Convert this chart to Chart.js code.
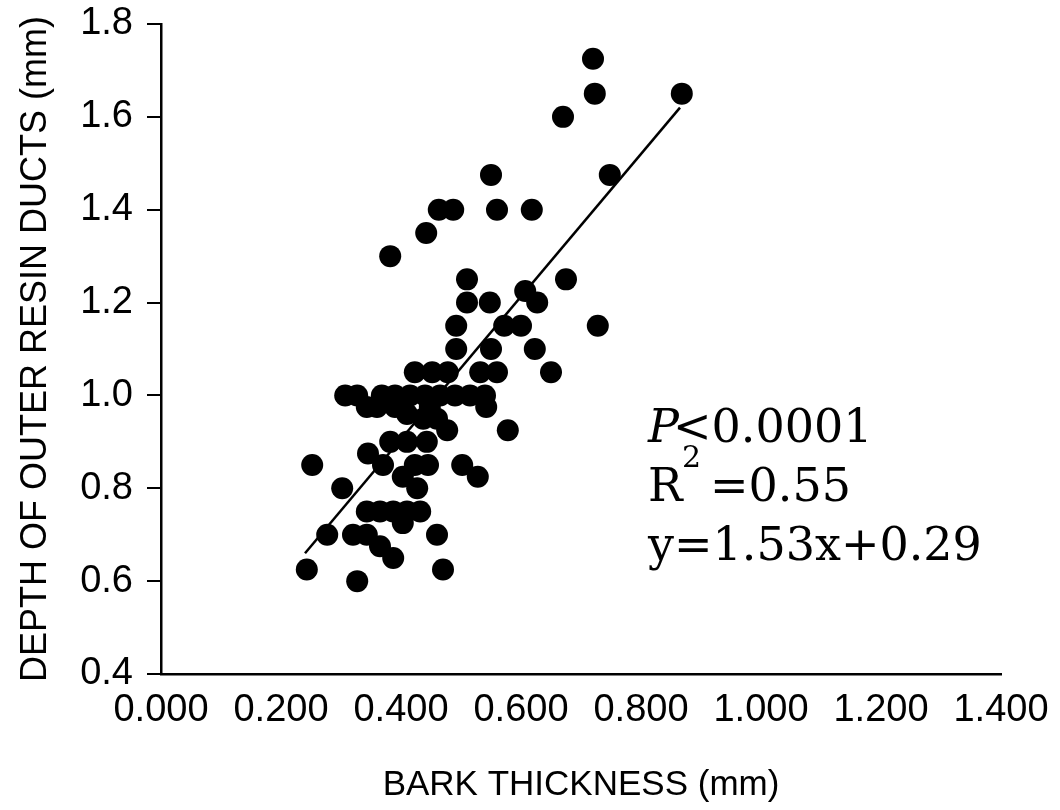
<!DOCTYPE html>
<html>
<head>
<meta charset="utf-8">
<script src="https://cdn.jsdelivr.net/npm/chart.js@4/dist/chart.umd.min.js"></script>
<style>
  html, body { margin: 0; padding: 0; background: #fff; }
  #wrap { width: 1060px; height: 810px; }
</style>
</head>
<body>
<div id="wrap"><canvas id="myChart" width="1060" height="810"></canvas></div>
<script>
'use strict'
// bark thickness (mm) vs depth of outer resin ducts (mm)
let barkThickness = [0.720, 0.723, 0.670, 0.868, 0.748, 0.550, 0.463, 0.487, 0.560, 0.618,
  0.442, 0.382, 0.675, 0.728, 0.510, 0.510, 0.548, 0.607, 0.627, 0.492,
  0.572, 0.600, 0.492, 0.550, 0.623, 0.650, 0.423, 0.452, 0.478, 0.532,
  0.560, 0.307, 0.327, 0.368, 0.390, 0.415, 0.440, 0.465, 0.490, 0.515,
  0.540, 0.542, 0.578, 0.343, 0.360, 0.390, 0.448, 0.410, 0.437, 0.460,
  0.477, 0.382, 0.410, 0.443, 0.345, 0.370, 0.252, 0.423, 0.445, 0.502,
  0.528, 0.302, 0.403, 0.427, 0.343, 0.365, 0.387, 0.410, 0.432, 0.403,
  0.277, 0.320, 0.343, 0.365, 0.387, 0.460, 0.243, 0.327, 0.470];
let ductDepth = [1.725, 1.650, 1.600, 1.650, 1.475, 1.475, 1.400, 1.400, 1.400, 1.400,
  1.350, 1.300, 1.250, 1.150, 1.250, 1.200, 1.200, 1.225, 1.200, 1.150,
  1.150, 1.150, 1.100, 1.100, 1.100, 1.050, 1.050, 1.050, 1.050, 1.050,
  1.050, 1.000, 1.000, 1.000, 1.000, 1.000, 1.000, 1.000, 1.000, 1.000,
  1.000, 0.975, 0.925, 0.975, 0.975, 0.975, 0.975, 0.960, 0.950, 0.950,
  0.925, 0.900, 0.900, 0.900, 0.875, 0.850, 0.850, 0.850, 0.850, 0.850,
  0.825, 0.800, 0.825, 0.800, 0.750, 0.750, 0.750, 0.750, 0.750, 0.725,
  0.700, 0.700, 0.700, 0.675, 0.650, 0.700, 0.625, 0.600, 0.625];
// ends of the fitted line as drawn
let fitX = [0.240, 0.865];
let fitY = [0.660, 1.620];
let xTickLabels = ['0.000', '0.200', '0.400', '0.600', '0.800', '1.000', '1.200', '1.400'];
let yTickLabels = ['0.4', '0.6', '0.8', '1.0', '1.2', '1.4', '1.6', '1.8'];
let statLines = ['<0.0001', '=0.55', 'y=1.53x+0.29'];

let points = [];
for (let i = 0; i < barkThickness.length; i++) {
  points.push({x: barkThickness[i], y: ductDepth[i]});
}
let fitPoints = [];
for (let i = 0; i < fitX.length; i++) {
  fitPoints.push({x: fitX[i], y: fitY[i]});
}

// P, R squared and the equation, in a serif face like the original
let statsText = {
  id: 'statsText',
  afterDraw(chart) {
    let ctx = chart.ctx;
    ctx.save();
    ctx.fillStyle = '#000';
    ctx.textBaseline = 'alphabetic';
    ctx.textAlign = 'left';
    ctx.font = 'italic 46px "DejaVu Serif"';
    ctx.fillText('P', 648, 442);
    let pw = ctx.measureText('P').width;
    ctx.font = '46px "DejaVu Serif"';
    ctx.fillText(statLines[0], 648 + pw - 6, 442);
    ctx.fillText('R', 648, 501);
    ctx.fillText(statLines[1], 710, 501);
    ctx.fillText(statLines[2], 648, 560);
    ctx.font = '30px "DejaVu Serif"';
    ctx.fillText('2', 682, 467);
    ctx.restore();
  }
};

let ctx = document.getElementById('myChart').getContext('2d');
let myChart = new Chart(ctx, {
  type: 'scatter',
  data: {
    datasets: [{
      label: 'depth',
      data: points,
      backgroundColor: '#000',
      borderColor: '#000',
      borderWidth: 0,
      pointRadius: 11,
      pointHoverRadius: 11
    }, {
      type: 'line',
      label: 'fit',
      data: fitPoints,
      borderColor: '#000',
      borderWidth: 2.5,
      pointRadius: 0,
      fill: false
    }]
  },
  options: {
    responsive: false,
    animation: false,
    events: [],
    layout: { padding: { left: 0, top: 24, right: 59, bottom: 0 } },
    plugins: {
      legend: { display: false },
      tooltip: { enabled: false }
    },
    scales: {
      x: {
        type: 'linear',
        min: 0,
        max: 1.4,
        afterFit: s => { s.height = 136; s.paddingLeft = 0; s.paddingRight = 0; },
        ticks: {
          stepSize: 0.2,
          color: '#000',
          padding: 14,
          maxRotation: 0,
          font: { family: '"Liberation Sans", Arial, sans-serif', size: 38 },
          callback: (v, i) => xTickLabels[i]
        },
        grid: { display: false, drawTicks: false },
        border: { display: true, color: '#000', width: 2.5 },
        title: {
          display: true,
          text: 'BARK THICKNESS (mm)',
          color: '#000',
          font: { family: '"Liberation Sans", Arial, sans-serif', size: 35 },
          padding: { top: 0, bottom: 4 }
        }
      },
      y: {
        type: 'linear',
        min: 0.4,
        max: 1.8,
        afterFit: s => { s.width = 161; s.paddingTop = 0; s.paddingBottom = 0; },
        ticks: {
          stepSize: 0.2,
          color: '#000',
          padding: 14,
          font: { family: '"Liberation Sans", Arial, sans-serif', size: 38 },
          callback: (v, i) => yTickLabels[i]
        },
        grid: { drawOnChartArea: false, drawTicks: true, tickLength: 14, color: '#000', lineWidth: 2 },
        border: { display: true, color: '#000', width: 2.5 },
        title: {
          display: true,
          text: 'DEPTH OF OUTER RESIN DUCTS (mm)',
          color: '#000',
          font: { family: '"Liberation Sans", Arial, sans-serif', size: 36 },
          padding: { top: 14, bottom: 0 }
        }
      }
    }
  },
  plugins: [statsText]
});
</script>
</body>
</html>
